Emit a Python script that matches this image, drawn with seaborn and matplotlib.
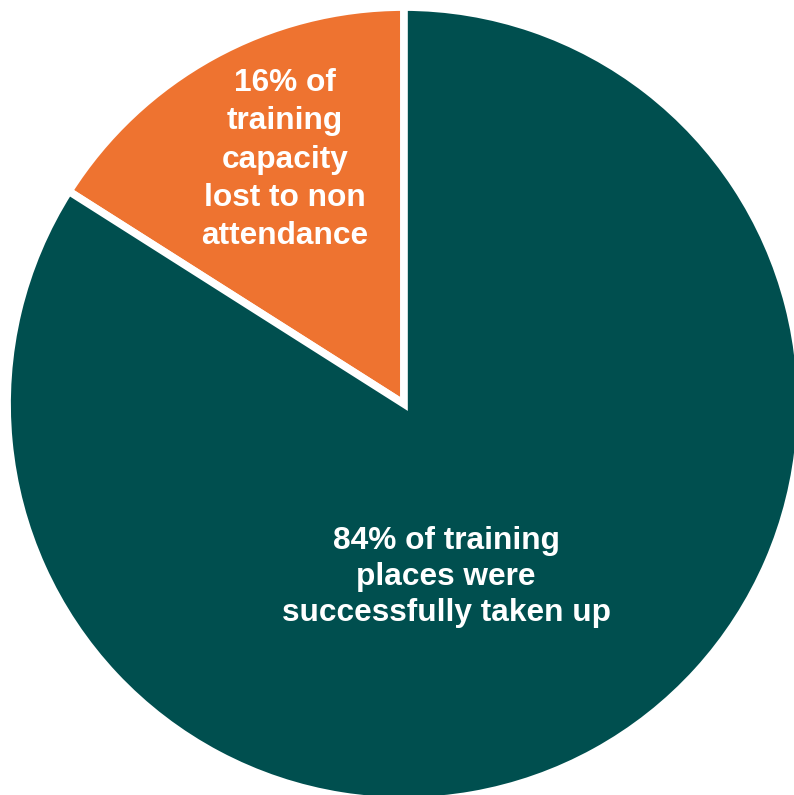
import matplotlib
matplotlib.use("Agg")
import matplotlib.pyplot as plt
import seaborn as sns

# Share of training capacity
labels = ["16% of\ntraining\ncapacity\nlost to non\nattendance",
          "84% of training\nplaces were\nsuccessfully taken up"]
shares = [16, 84]
colors = ["#EE7330", "#004F4F"]

sns.set_theme(style="white")
plt.rcParams['font.family'] = ['Liberation Sans', 'DejaVu Sans']

fig = plt.figure(figsize=(7.94, 7.95), dpi=100)
ax = fig.add_axes([0.01385, -0.0025, 0.9899, 0.9887])

wedges, _ = ax.pie(shares, colors=colors, startangle=90, counterclock=True,
                   radius=1.01,
                   wedgeprops=dict(edgecolor="white", linewidth=5.5))

# label positions (data coords) and line spacing
label_pos = [(-0.303, 0.622), (0.107, -0.44)]
spacing = [1.35, 1.27]
for txt, (x, y), ls in zip(labels, label_pos, spacing):
    ax.text(x, y, txt, ha="center", va="center", color="white",
            fontsize=22.8, fontweight="bold", linespacing=ls)

ax.set_xlim(-1, 1)
ax.set_ylim(-1, 1)
ax.set_aspect("equal")
ax.axis("off")

fig.savefig("out.png", dpi=100)
